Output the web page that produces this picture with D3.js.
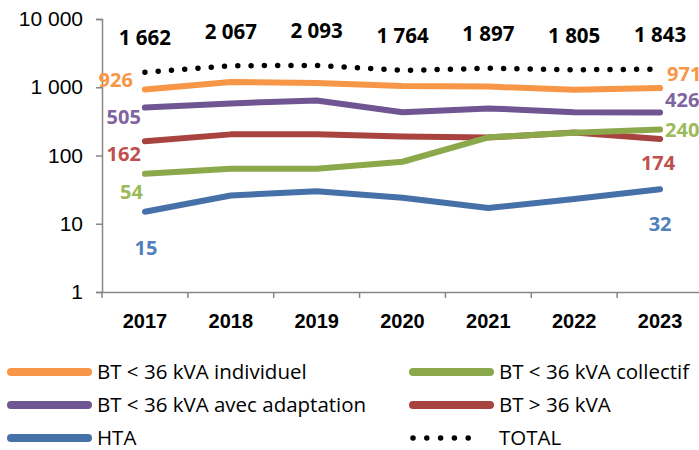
<!DOCTYPE html>
<html>
<head>
<meta charset="utf-8">
<script src="https://cdn.jsdelivr.net/npm/d3@7"></script>
<style>
  body { margin: 0; background: #fff; }
  svg { display: block; font-family: "Open Sans", sans-serif; }
</style>
</head>
<body>
<div id="chart"></div>
<script>
// data
var years = ["2017", "2018", "2019", "2020", "2021", "2022", "2023"];
var individuel = [926, 1193, 1155, 1039, 1022, 919, 971];
var adaptation = [505, 580, 640, 430, 490, 430, 426];
var gt36 = [162, 204, 204, 190, 183, 218, 174];
var collectif = [54, 64, 64, 81, 185, 215, 240];
var hta = [15, 26, 30, 24, 17, 23, 32];
var total = [1662, 2067, 2093, 1764, 1897, 1805, 1843];
var yTicks = [1, 10, 100, 1000, 10000];

var series = [
  { name: "BT < 36 kVA individuel", values: individuel, line: "#f79646", label: "#f79646", first: [-12, -3, "end"], last: [7, -7, "start"] },
  { name: "BT < 36 kVA avec adaptation", values: adaptation, line: "#6f5592", label: "#8064a2", first: [-4, 16, "end"], last: [5, -6, "start"] },
  { name: "BT > 36 kVA", values: gt36, line: "#a8433f", label: "#c0504d", first: [-4, 20, "end"], last: [-2, 31, "middle"] },
  { name: "BT < 36 kVA collectif", values: collectif, line: "#8ba84a", label: "#9bbb59", first: [-2, 25, "end"], last: [5, 7, "start"] },
  { name: "HTA", values: hta, line: "#4670a8", label: "#4f81bd", first: [1, 43, "middle"], last: [0, 42, "middle"] }
];

var fmt = function(v) { return d3.format(",")(v).replace(/,/g, " "); };

var svg = d3.select("#chart").append("svg")
  .attr("width", 699)
  .attr("height", 450);

var x = d3.scaleBand().domain(years).range([102, 703]);
var y = d3.scaleLog().domain([1, 10000]).range([292, 19]);
var cx = function(i) { return x(years[i]) + x.bandwidth() / 2; };

// y axis
var yAxis = d3.axisLeft(y).tickValues(yTicks).tickSize(6).tickPadding(13).tickFormat(fmt);
var gy = svg.append("g").attr("transform", "translate(102,0)").call(yAxis);
gy.select(".domain").attr("stroke", "#868686").attr("stroke-width", 1.5);
gy.selectAll(".tick line").attr("stroke", "#868686").attr("stroke-width", 1.5);
gy.selectAll(".tick text").attr("font-size", 21).attr("fill", "#000");

// x axis
var xAxis = d3.axisBottom(x).tickSize(0).tickPadding(22);
var gx = svg.append("g").attr("transform", "translate(0,292)").call(xAxis);
gx.select(".domain").attr("stroke", "#868686").attr("stroke-width", 1.5);
gx.selectAll(".tick text").attr("font-size", 20).attr("font-weight", "bold").attr("fill", "#000");
gx.selectAll(".sep").data(years).enter().append("line")
  .attr("x1", function(d) { return x(d); })
  .attr("x2", function(d) { return x(d); })
  .attr("y1", 0).attr("y2", 6)
  .attr("stroke", "#868686").attr("stroke-width", 1.5);

var line = d3.line()
  .x(function(d, i) { return cx(i); })
  .y(function(d) { return y(d); });

// total (dotted)
svg.append("path")
  .datum(total)
  .attr("d", line)
  .attr("fill", "none")
  .attr("stroke", "#000")
  .attr("stroke-width", 5.5)
  .attr("stroke-linecap", "round")
  .attr("stroke-dasharray", "0 13.3");

svg.selectAll(".series").data(series).enter().append("path")
  .attr("d", function(s) { return line(s.values); })
  .attr("fill", "none")
  .attr("stroke", function(s) { return s.line; })
  .attr("stroke-width", 6)
  .attr("stroke-linecap", "round")
  .attr("stroke-linejoin", "round");

// total labels
svg.selectAll(".tot").data(total).enter().append("text")
  .attr("x", function(d, i) { return cx(i); })
  .attr("y", function(d) { return y(d) - 27; })
  .attr("text-anchor", "middle")
  .attr("font-size", 20.5)
  .attr("font-weight", "bold")
  .attr("fill", "#000")
  .text(fmt);

// first / last value labels
series.forEach(function(s) {
  var n = s.values.length - 1;
  [[0, s.first], [n, s.last]].forEach(function(p) {
    var i = p[0], o = p[1];
    svg.append("text")
      .attr("x", cx(i) + o[0])
      .attr("y", y(s.values[i]) + o[1])
      .attr("text-anchor", o[2])
      .attr("font-size", 20)
      .attr("font-weight", "bold")
      .attr("fill", s.label)
      .text(fmt(s.values[i]));
  });
});

// legend
var legendItems = [
  { name: series[0].name, color: series[0].line, col: 0, row: 0 },
  { name: series[3].name, color: series[3].line, col: 1, row: 0 },
  { name: series[1].name, color: series[1].line, col: 0, row: 1 },
  { name: series[2].name, color: series[2].line, col: 1, row: 1 },
  { name: series[4].name, color: series[4].line, col: 0, row: 2 },
  { name: "TOTAL", color: "#000", col: 1, row: 2, dotted: true }
];
var colX = [8, 410];
var rowY = [372, 405, 438];

var lg = svg.selectAll(".lg").data(legendItems).enter().append("g")
  .attr("transform", function(d) { return "translate(" + colX[d.col] + "," + rowY[d.row] + ")"; });

lg.append("line")
  .attr("x1", 3)
  .attr("x2", function(d) { return d.dotted ? 72 : 80; })
  .attr("y1", 0).attr("y2", 0)
  .attr("stroke", function(d) { return d.color; })
  .attr("stroke-width", function(d) { return d.dotted ? 5.5 : 8; })
  .attr("stroke-linecap", "round")
  .attr("stroke-dasharray", function(d) { return d.dotted ? "0 13.8" : null; });

lg.append("text")
  .attr("x", 89)
  .attr("y", 0)
  .attr("dy", "0.35em")
  .attr("font-size", 20.5)
  .attr("fill", "#000")
  .text(function(d) { return d.name; });
</script>
</body>
</html>
